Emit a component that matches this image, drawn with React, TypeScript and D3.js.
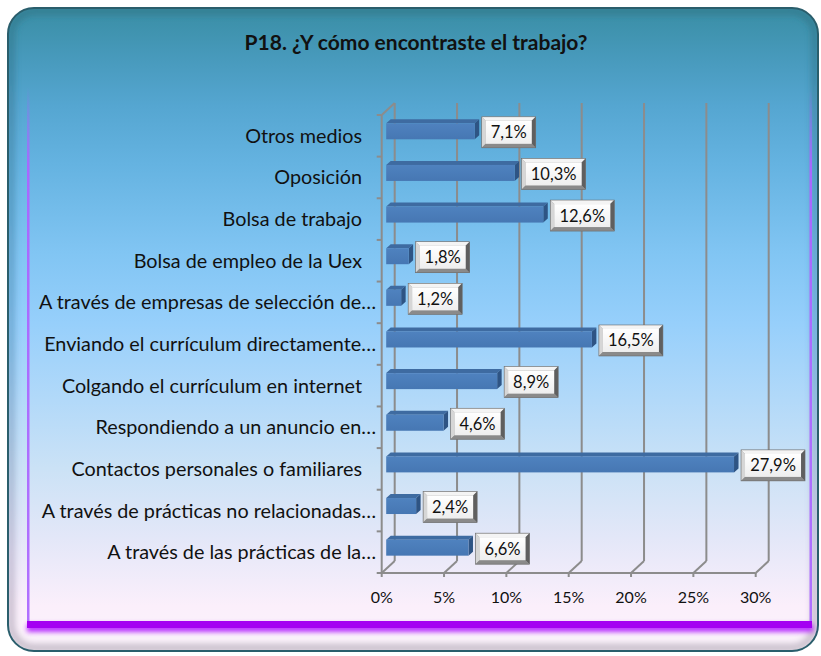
import React from "react";
import * as d3 from "d3";

const categories = [
  "Otros medios",
  "Oposición",
  "Bolsa de trabajo",
  "Bolsa de empleo de la Uex",
  "A través de empresas de selección de…",
  "Enviando el currículum directamente…",
  "Colgando el currículum en internet",
  "Respondiendo a un anuncio en…",
  "Contactos personales o familiares",
  "A través de prácticas no relacionadas…",
  "A través de las prácticas de la…",
];
const values = [7.1, 10.3, 12.6, 1.8, 1.2, 16.5, 8.9, 4.6, 27.9, 2.4, 6.6];
const valueLabels = ["7,1%", "10,3%", "12,6%", "1,8%", "1,2%", "16,5%", "8,9%", "4,6%", "27,9%", "2,4%", "6,6%"];
const ticks = [0, 5, 10, 15, 20, 25, 30];
const tickLabels = ["0%", "5%", "10%", "15%", "20%", "25%", "30%"];
const title = "P18. ¿Y cómo encontraste el trabajo?";

const W = 821;
const H = 656;
const FONT = "Lato, 'Open Sans', sans-serif";

const bgStops: [number, string][] = [
  [10, "#3c90a9"],
  [60, "#4a9cc0"],
  [100, "#55a6d1"],
  [160, "#65b3e1"],
  [250, "#81c5f3"],
  [320, "#96cffb"],
  [400, "#b2d9f9"],
  [470, "#cbe2f6"],
  [540, "#e3e7f8"],
  [610, "#fbeffb"],
  [656, "#fbf3fb"],
];

export default function App() {
  const x = d3.scaleLinear().domain([0, 30]).range([381.7, 755.7]);
  const y = d3.scaleBand<string>().domain(categories).range([115, 573]).padding(0);
  const DX = 13;
  const DY = -12;
  const bdx = 4.5;
  const bdy = -4;
  const barH = 16;
  const floorY = 573;
  const grid = "#8c8c8c";

  return (
    <svg width={W} height={H} style={{ position: "absolute", left: 0, top: 0 }}>
      <defs>
        <linearGradient id="bg" x1="0" y1="0" x2="0" y2="1">
          {bgStops.map(([o, c]) => (
            <stop key={o} offset={o / H} stopColor={c} />
          ))}
        </linearGradient>
        <linearGradient id="bevel" x1="0" y1="0" x2="0" y2="1">
          <stop offset="0" stopColor="#2a6878" />
          <stop offset="0.5" stopColor="#3f7fa8" />
          <stop offset="0.85" stopColor="#9a90b0" />
          <stop offset="1" stopColor="#8a7f90" />
        </linearGradient>
        <linearGradient id="side" x1="0" y1="0" x2="0" y2="1">
          <stop offset="0" stopColor="#a35cff" stopOpacity={0} />
          <stop offset="0.15" stopColor="#a868ff" stopOpacity={1} />
          <stop offset="1" stopColor="#b070ff" stopOpacity={1} />
        </linearGradient>
        <linearGradient id="boxg" x1="0" y1="0" x2="0" y2="1">
          <stop offset="0" stopColor="#ffffff" />
          <stop offset="1" stopColor="#eeeeee" />
        </linearGradient>
        <linearGradient id="barF" x1="0" y1="0" x2="0" y2="1">
          <stop offset="0" stopColor="#4f82bf" />
          <stop offset="1" stopColor="#4677b3" />
        </linearGradient>
        <filter id="blur3" x="-10%" y="-10%" width="120%" height="120%">
          <feGaussianBlur stdDeviation="3" />
        </filter>
        <filter id="blur2" x="-10%" y="-100%" width="120%" height="300%">
          <feGaussianBlur stdDeviation="2.5" />
        </filter>
        <clipPath id="frameClip">
          <rect x={8} y={8} width={810} height={643} rx={26} />
        </clipPath>
      </defs>

      {/* outer frame */}
      <rect x={8} y={8} width={810} height={643} rx={26} fill="url(#bg)" />
      <g clipPath="url(#frameClip)">
        <rect x={11} y={11} width={804} height={637} rx={24} fill="none" stroke="url(#bevel)" strokeOpacity={0.45} strokeWidth={8} filter="url(#blur3)" />
      </g>
      <rect x={8} y={8} width={810} height={643} rx={26} fill="none" stroke="#2a5e6c" strokeWidth={2} />

      {/* inner panel borders */}
      <rect x={27} y={87} width={2.5} height={538} fill="url(#side)" />
      <rect x={809.5} y={87} width={2.5} height={538} fill="url(#side)" />
      <rect x={27} y={624} width={786} height={8} fill="#a800ff" opacity={0.8} filter="url(#blur2)" />
      <rect x={27} y={621} width={785} height={7} fill="#a400f2" />

      {/* title */}
      <text x={416} y={50} textAnchor="middle" fontFamily={FONT} fontWeight={700} fontSize={21} fill="#111">
        {title}
      </text>

      {/* back gridlines and floor diagonals */}
      {ticks.map((t, k) => (
        <g key={"g" + t}>
          <line x1={x(t) + DX} y1={103} x2={x(t) + DX} y2={floorY + DY} stroke={grid} strokeWidth={2} />
          <line x1={x(t)} y1={floorY} x2={x(t) + DX} y2={floorY + DY} stroke={grid} strokeWidth={2} />
          <line x1={x(t)} y1={floorY} x2={x(t)} y2={floorY + 4} stroke={grid} strokeWidth={2} />
          <text x={x(t)} y={603} textAnchor="middle" fontFamily={FONT} fontSize={16} fill="#111">
            {tickLabels[k]}
          </text>
        </g>
      ))}
      {/* front axes */}
      <line x1={x(0)} y1={floorY} x2={x(30)} y2={floorY} stroke={grid} strokeWidth={2} />
      <line x1={x(0)} y1={115} x2={x(0)} y2={floorY} stroke={grid} strokeWidth={2} />
      <line x1={x(0)} y1={115} x2={x(0) + DX} y2={115 + DY} stroke={grid} strokeWidth={2} />
      {d3.range(categories.length + 1).map((i) => {
        const yy = 115 + i * y.bandwidth();
        return <line key={"ct" + i} x1={x(0) - 5} y1={yy} x2={x(0)} y2={yy} stroke={grid} strokeWidth={2} />;
      })}

      {/* category labels */}
      {categories.map((c) => {
        const trunc = c.endsWith("…");
        return (
          <text
            key={"l" + c}
            x={trunc ? 376 : 362}
            y={(y(c) as number) + y.bandwidth() / 2 + 7}
            textAnchor="end"
            fontFamily={FONT}
            fontSize={19.8}
            fill="#111"
          >
            {c}
          </text>
        );
      })}

      {/* bars */}
      {categories.map((c, i) => {
        const x0 = x(0) + bdx;
        const x1 = x(values[i]) + bdx;
        const top = (y(c) as number) + 8.3;
        const bot = top + barH;
        const topFace = `M${x0},${top} L${x0 + bdx},${top + bdy} L${x1 + bdx},${top + bdy} L${x1},${top} Z`;
        const sideFace = `M${x1},${top} L${x1 + bdx},${top + bdy} L${x1 + bdx},${bot + bdy} L${x1},${bot} Z`;
        const label = valueLabels[i];
        const bw = label.length === 4 ? 54 : 64;
        const bh = 31;
        const bx = x1 + 7;
        const by = top + 8 - bh / 2 + 1;
        const b = 4;
        return (
          <g key={"b" + c}>
            <path d={topFace} fill="#3e6ba1" />
            <path d={sideFace} fill="#2e5484" />
            <rect x={x0} y={top} width={x1 - x0} height={barH} fill="url(#barF)" />
            <rect x={bx} y={by} width={bw} height={bh} fill="#9a9a9a" />
            <path d={`M${bx},${by} L${bx + bw},${by} L${bx + bw - b},${by + b} L${bx + b},${by + b} Z`} fill="#f4f4f4" />
            <path d={`M${bx},${by} L${bx + b},${by + b} L${bx + b},${by + bh - b} L${bx},${by + bh} Z`} fill="#d6d6d6" />
            <path d={`M${bx + bw},${by} L${bx + bw},${by + bh} L${bx + bw - b},${by + bh - b} L${bx + bw - b},${by + b} Z`} fill="#5f5f5f" />
            <path d={`M${bx},${by + bh} L${bx + bw},${by + bh} L${bx + bw - b},${by + bh - b} L${bx + b},${by + bh - b} Z`} fill="#8a8a8a" />
            <rect x={bx + b} y={by + b} width={bw - 2 * b} height={bh - 2 * b} fill="url(#boxg)" />
            <rect x={bx} y={by} width={bw} height={bh} fill="none" stroke="#6a6a6a" strokeWidth={0.6} />
            <text x={bx + bw / 2} y={by + bh / 2 + 6} textAnchor="middle" fontFamily={FONT} fontSize={16.5} fill="#111">
              {label}
            </text>
          </g>
        );
      })}
    </svg>
  );
}
